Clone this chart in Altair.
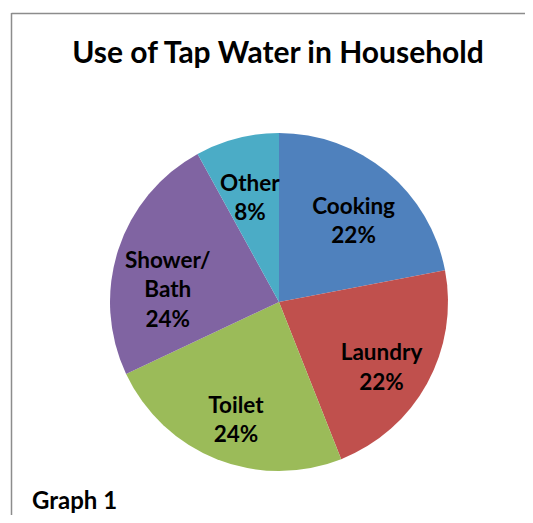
import altair as alt
import pandas as pd

categories = ["Cooking", "Laundry", "Toilet", "Shower/\nBath", "Other"]
shares = [22, 22, 24, 24, 8]
colors = ["#4F81BD", "#C0504D", "#9BBB59", "#8064A2", "#4BACC6"]
title_text = "Use of Tap Water in Household"
footnote_text = "Graph 1"

df = pd.DataFrame({
    "category": categories,
    "share": shares,
    "order": list(range(len(categories))),
})
df["label"] = [f"{c}\n{v}%" for c, v in zip(categories, shares)]

W, H = 517, 507
CX, CY = 271, 294
FONT = "Lato"

base = alt.Chart(df).encode(
    theta=alt.Theta("share:Q", stack=True),
    order=alt.Order("order:Q"),
)

arcs = base.mark_arc(outerRadius=169).encode(
    color=alt.Color("category:N", scale=alt.Scale(domain=categories, range=colors), legend=None),
    x=alt.value(CX),
    y=alt.value(CY),
)

labels = base.mark_text(
    radius=117, font=FONT, fontWeight="bold", fontSize=22.5, lineHeight=29.5,
    color="black", align="center", baseline="middle", lineBreak="\n", dy=-5,
).encode(
    text="label:N",
    x=alt.value(CX),
    y=alt.value(CY),
)

title = alt.Chart(pd.DataFrame({"t": [title_text]})).mark_text(
    font=FONT, fontWeight="bold", fontSize=30, align="center", baseline="alphabetic", color="black"
).encode(text="t:N", x=alt.value(CX - 1), y=alt.value(55))

foot = alt.Chart(pd.DataFrame({"t": [footnote_text]})).mark_text(
    font=FONT, fontWeight="bold", fontSize=24, align="left", baseline="alphabetic", color="black"
).encode(text="t:N", x=alt.value(24), y=alt.value(501))

frame_left = alt.Chart(pd.DataFrame({"a": [0]})).mark_rule(color="#8c8c8c", strokeWidth=1.5).encode(
    x=alt.value(3.5), y=alt.value(5), y2=alt.value(H)
)
frame_top = alt.Chart(pd.DataFrame({"a": [0]})).mark_rule(color="#8c8c8c", strokeWidth=1.5).encode(
    x=alt.value(3.5), x2=alt.value(W), y=alt.value(5.5)
)

chart = alt.layer(arcs, labels, title, foot, frame_left, frame_top).properties(
    width=W, height=H, padding=0, autosize=alt.AutoSizeParams(type="none")
).configure_view(stroke=None)

chart.save("out.html", embed_options={"renderer": "svg", "actions": False})
